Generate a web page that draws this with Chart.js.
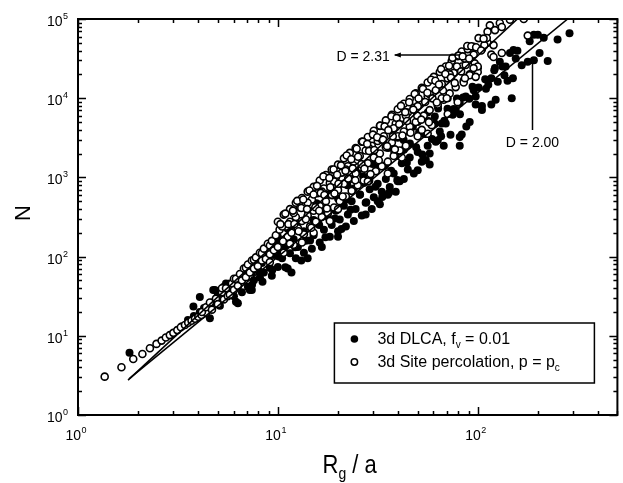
<!DOCTYPE html>
<html>
<head>
<meta charset="utf-8">
<title>N vs Rg/a</title>
<script src="https://cdn.jsdelivr.net/npm/chart.js@4.4.1/dist/chart.umd.min.js"></script>
<style>
  html, body { margin: 0; padding: 0; background: #fff; }
  #wrap { width: 623px; height: 483px; position: relative; }
</style>
</head>
<body>
<div id="wrap"><canvas id="myChart"></canvas></div>
<script>
// axis ranges and tick labels
var xRange = [1, 500];
var yRange = [1, 100000];
var xMajorTicks = [1, 10, 100];
var yMajorTicks = [1, 10, 100, 1000, 10000, 100000];
var xTickExp = ["0", "1", "2"];
var yTickExp = ["0", "1", "2", "3", "4", "5"];

// fitted power laws, end points  [Rg/a, N]
var fit231 = [[1.78, 2.75], [158, 100000]];
var fit200 = [[1.80, 2.85], [282, 100000]];

// 3d site percolation, p = pc  (open circles)  [Rg/a, N]
var percPoints = [
  [1.36,3.05],[1.65,4.0],[1.89,5.1],[2.10,5.9],[2.29,6.95],[2.47,7.9],[2.62,8.7],[2.75,9.5],[2.88,10.2],[3.00,10.9],
  [3.14,11.8],[3.27,12.8],[3.43,13.7],[3.56,14.6],[3.70,15.5],[3.85,16.4],[4.00,17.4],[4.15,18.3],[4.37,19.5],
  [4.17,20.0],[4.37,22.9],[4.57,26.3],[4.68,21.4],[4.90,29.5],[5.01,25.1],[5.25,35.5],[5.25,39.8],[5.37,28.8],[5.50,39.8],
  [5.62,31.6],[5.75,33.1],[5.89,45.7],[6.03,38.0],[6.03,52.5],[6.17,52.5],[6.31,42.7],[6.46,60.3],[6.61,50.1],[6.76,70.8],
  [6.92,55.0],[6.92,72.4],[7.08,79.4],[7.24,63.1],[7.41,89.1],[7.59,70.8],[7.59,91.2],[7.76,97.7],[7.94,75.9],[8.13,112],
  [8.32,89.1],[8.32,110],[8.51,126],[8.71,93.3],[8.91,145],[9.12,107],[9.12,85.1],[9.12,138],[9.33,158],[9.55,120],
  [9.77,186],[10.0,132],[10.2,219],[10.5,158],[10.7,112],[11.0,240],[11.2,178],[11.5,275],[11.7,200],[12.0,141],
  [12.3,316],[12.6,229],[12.9,417],[13.2,282],[13.5,191],[13.8,457],[14.1,331],[14.5,240],[14.8,525],[15.1,380],
  [15.5,275],[15.8,631],[16.2,437],[16.6,316],[17.0,724],[17.4,501],[17.8,355],[18.2,851],[18.6,603],[19.1,417],
  [19.5,1000],[20.0,692],[20.4,501],[20.9,1150],[21.4,832],[21.9,575],[22.4,1380],[22.9,955],[23.4,676],[24.0,1580],
  [24.5,1120],[25.1,794],[25.7,1860],[26.3,1320],[26.9,912],[27.5,2190],[28.2,1510],[28.8,1050],[29.5,2510],[30.2,1780],
  [30.9,1200],[31.6,2880],[32.4,2000],[33.1,1380],[33.9,3310],[34.7,2400],[35.5,1580],[36.3,3980],[37.2,2750],[38.0,1860],
  [38.9,4790],[39.8,3310],[40.7,2190],[41.7,5620],[42.7,3800],[43.7,2510],[44.7,6610],[45.7,4370],[47.9,7590],[49.0,5010],
  [50.1,3310],[52.5,8910],[53.7,6030],[56.2,10500],[57.5,7080],[58.9,4570],[61.7,12600],[63.1,8320],[66.1,15100],[67.6,9550],
  [70.8,17800],[72.4,11500],[75.9,20900],[77.6,13800],[79.4,8910],[83.2,25100],[85.1,16600],[89.1,29500],[91.2,20000],[95.5,35500],
  [100,24000],[105,41700],[112,50100],[83.2,38900],
  [115,83200],[129,89100],[132,79400],[145,97700],[112,69200],[122,72400],[178,61700],[132,37200],[95.5,44700],[108,46800],
  [96.6,27500],[100,21400],[85.1,15800],[91.2,19500],[117,35500],[111,57500],[120,46800],[120,33100],[97.7,18600],[100,25100],
  [87.1,26300],[86.1,31600],[170,100000],
  [10.5,240],[12.0,355],[14.1,479],[16.6,661],[19.1,891],[21.9,1260],[25.1,1660],[28.8,2290],[33.1,3020],[38.0,4170],
  [43.7,6030],[50.1,7940],[57.5,11200],[66.1,10000],[72.4,20000],[52.5,3980],[28.2,891],[20.0,398],[15.1,200],[41.7,1780],
  [35.5,1120],[56.2,3550],[70.8,6310],[18.2,282],[13.2,151],
  [10.0,275],[10.7,339],[11.5,398],[12.3,479],[13.2,550],[14.1,661],[15.1,759],[16.2,912],[17.4,1070],[18.6,1260],
  [20.0,1450],[21.4,1740],[22.9,2040],[24.5,2340],[26.3,2820],[28.2,3240],[30.2,3890],[32.4,4470],[34.7,5250],[37.2,6170],
  [39.8,7240],[42.7,8510],[45.7,9770],[49.0,11500],[52.5,13500],[56.2,15800],[60.3,18600],[64.6,21400],[69.2,25100],[74.1,29500],
  [79.4,33900],[89.1,41700],
  [10.3,257],[10.6,156],[10.9,349],[11.3,257],[11.5,145],[11.9,381],[12.1,258],[12.5,506],[12.7,209],[13.1,410],
  [13.4,526],[13.8,296],[14.0,398],[14.4,684],[14.7,231],[15.1,607],[15.4,419],[15.7,782],[16.1,380],[16.4,637],
  [16.9,1030],[17.1,600],[17.6,406],[18.1,986],[18.3,750],[19.0,1260],[19.2,625],[19.8,1080],[20.1,832],[20.7,1420],
  [21.1,573],[21.8,1210],[22.1,1890],[22.5,966],[23.3,1700],[23.7,1300],[24.4,920],[24.8,2300],[25.2,1820],[26.2,1470],
  [26.6,2830],[27.1,1290],[28.0,2650],[28.6,2150],[29.1,1100],[29.9,3470],[30.4,2220],[31.4,3220],[32.0,1650],[32.5,4500],
  [33.6,2990],[34.2,4410],[35.2,2480],[35.7,3950],[37.0,5920],[37.6,3300],[38.5,2260],[39.3,5650],[40.5,4700],[41.3,8000],
  [42.0,3380],[43.4,6670],[44.3,5150],[45.4,8870],[46.1,3660],[47.6,7180],[48.4,11300],[49.8,6030],[50.6,9910],[52.2,5360],
  [53.2,13100],[54.6,8950],[56.0,11700],[57.0,4970],[58.5,17100],[59.4,9950],[61.4,16600],[62.4,8830],[64.0,14900],[65.6,23300],
  [67.0,12500],[68.9,20200],[70.0,10000],[71.9,25700],[73.5,18200],[74.8,32300],[76.7,15600],[78.7,25100],[80.2,34500],[82.6,21800],
  [84.1,33700],[86.3,17900],[88.7,45700],[90.6,31700],[92.9,45300],[95.3,24000],[98.2,43900],[101,57400],[104,40000],[107,56500]
];

// 3d DLCA, fv = 0.01  (filled circles)  [Rg/a, N]
var dlcaPoints = [
  [1.81,6.12],[3.31,13.2],[3.55,15.8],[3.78,23.4],[3.80,17.8],[4.07,30.9],[4.07,20.0],[4.27,22.4],[4.37,19.1],[4.57,16.6],
  [4.68,26.3],[4.75,38.0],[4.84,38.0],[4.90,26.9],[5.01,33.1],[5.13,24.0],[5.25,30.2],[5.37,41.7],[5.50,45.7],[5.62,35.5],
  [5.75,45.7],[6.03,31.6],[6.17,26.9],[6.31,25.7],[6.31,41.7],[6.46,50.1],[6.61,35.5],[6.92,56.2],[7.08,41.7],[7.24,38.0],
  [7.41,63.1],[7.41,38.0],[7.59,50.1],[7.94,70.8],[8.13,55.0],[8.32,83.2],[8.51,63.1],[8.91,95.5],[9.12,72.4],[9.33,57.5],
  [9.55,105],[10.0,74.1],[10.0,120],[10.0,178],[10.5,95.5],[10.7,126],[11.0,141],[11.2,70.8],[11.2,224],[11.5,110],
  [11.7,63.1],[12.0,166],[12.3,95.5],[12.6,132],[12.6,282],[13.2,200],[13.5,112],[13.5,209],[13.8,158],[14.1,380],
  [14.1,95.5],[14.5,240],[14.8,126],[15.1,186],[15.8,275],[15.8,457],[16.2,151],[16.6,132],[17.0,219],[17.0,331],
  [17.8,316],[17.8,603],[18.2,178],[18.6,251],[19.5,380],[20.0,209],[20.0,724],[20.0,178],[20.4,295],[21.4,437],
  [21.4,525],[21.9,240],[22.4,339],[22.4,955],[23.4,501],[24.0,282],[24.5,398],[25.1,1200],[25.7,603],[26.3,331],
  [26.9,851],[27.5,339],[27.5,479],[28.2,1510],[28.8,708],[29.5,398],[30.2,562],[31.6,832],[31.6,2000],[31.6,501],
  [32.4,457],[33.1,661],[33.9,1380],[34.7,955],[35.5,603],[35.5,2510],[36.0,640],[36.3,759],[38.0,1120],[38.9,661],
  [39.8,891],[39.8,3160],[40.7,891],[41.7,1510],[42.7,955],[42.7,2240],[44.7,1260],[44.7,3800],[45.7,1780],[47.9,1120],
  [50.1,1230],[50.1,2090],[50.1,5010],[52.5,1580],[53.7,3550],[55.0,1660],[56.2,2510],[56.2,6610],[57.5,2000],[57.5,1450],
  [61.0,5890],[61.7,2820],[63.1,2950],[63.1,7940],[64.6,3800],[66.1,4790],[67.6,2510],[69.2,4790],[70.8,10000],[72.4,6460],
  [75.0,6170],[77.6,7080],[81.3,8710],[81.3,3240],[81.3,2510],[83.2,3470],[87.1,10500],[91.2,5010],[95.5,12600],[97.7,10500],
  [105,7080],[110,13200],[117,17800],[122,24000],[123,9550],[129,28800],[136,19500],[138,25100],[145,37200],[148,10000],
  [150,17800],[151,40700],[158,39800],[178,28800],[191,30200],[191,63100],[200,63100],[204,37200],[224,29500],[251,55000],
  [288,66100],
  [7.13,64.0],[7.43,44.0],[7.74,91.2],[8.04,65.0],[8.38,48.0],[8.67,103],[9.04,88.9],[9.38,67.9],[9.73,153],[10.1,100],
  [10.5,160],[10.9,73.6],[11.3,156],[11.7,246],[12.2,131],[12.6,211],[13.1,89.5],[13.5,200],[14.1,313],[14.5,160],
  [15.1,289],[15.6,470],[16.1,250],[16.8,406],[17.3,175],[18.0,378],[18.7,590],[19.3,303],[20.0,541],[20.8,223],
  [21.6,514],[22.3,798],[23.1,390],[24.0,723],[24.9,1200],[25.8,607],[26.7,1030],[27.7,486],[28.7,908],[29.8,1480],
  [30.8,762],[32.0,1360],[33.3,564],[34.4,1410],[35.6,2350],[36.9,1210],[38.2,2110],[39.6,929],[41.0,1820],[42.6,2960],
  [44.2,1530],[45.8,2680],[47.4,4360],[49.2,2410],[50.9,3740],[52.8,1940],[54.7,3530],[56.8,5140],[59.0,3060],[61.1,4750],
  [63.4,7410],[65.6,3320],[68.1,5180],[70.6,7360],[73.1,3450],[75.9,7280],[78.7,9890],[81.5,6250],[84.5,10200],[87.7,4390],
  [90.8,9840],[94.2,14000],[97.7,8300],[101,13600],[105,8000],[109,17300],[113,14800],[117,8340],[121,22600],[126,16100],
  [133,25100],[141,16600],[155,31800],[166,26000],[182,52200],[214,57900]
];

function toXY(list) {
  return list.map(function (p) { return { x: p[0], y: p[1] }; });
}

var FONT = '"Liberation Sans", Arial, Helvetica, sans-serif';

// minor ticks 2..9 in every decade
function minorTicks(majors, max) {
  var out = [];
  majors.forEach(function (d) {
    for (var k = 2; k <= 9; k++) {
      if (k * d <= max) out.push(k * d);
    }
  });
  return out;
}

// draw "10" with a raised exponent, anchor = left x of the text
function drawPower(ctx, exp, left, base) {
  ctx.font = '14px ' + FONT;
  ctx.textAlign = 'left';
  ctx.textBaseline = 'alphabetic';
  ctx.fillText('10', left, base);
  var w = ctx.measureText('10').width;
  ctx.font = '9px ' + FONT;
  ctx.fillText(exp, left + w + 0.5, base - 7);
}
function powerWidth(ctx, exp) {
  ctx.font = '14px ' + FONT;
  var w = ctx.measureText('10').width;
  ctx.font = '9px ' + FONT;
  return w + 0.5 + ctx.measureText(exp).width;
}

var framePlugin = {
  id: 'framePlugin',
  afterDraw: function (chart) {
    var ctx = chart.ctx, a = chart.chartArea;
    var xs = chart.scales.x, ys = chart.scales.y;
    ctx.save();
    ctx.strokeStyle = '#000';
    ctx.fillStyle = '#000';

    // box
    ctx.lineWidth = 2;
    ctx.strokeRect(a.left, a.top, a.right - a.left, a.bottom - a.top);

    // inward ticks on all four sides
    ctx.lineWidth = 1.5;
    ctx.beginPath();
    var xt = xMajorTicks.map(function (v) { return [v, 8]; })
      .concat(minorTicks(xMajorTicks, xRange[1]).map(function (v) { return [v, 4]; }));
    xt.forEach(function (t) {
      var px = Math.round(xs.getPixelForValue(t[0])) + 0.5;
      ctx.moveTo(px, a.bottom); ctx.lineTo(px, a.bottom - t[1]);
      ctx.moveTo(px, a.top); ctx.lineTo(px, a.top + t[1]);
    });
    var yt = yMajorTicks.map(function (v) { return [v, 8]; })
      .concat(minorTicks(yMajorTicks.slice(0, -1), yRange[1]).map(function (v) { return [v, 4]; }));
    yt.forEach(function (t) {
      var py = Math.round(ys.getPixelForValue(t[0])) + 0.5;
      ctx.moveTo(a.left, py); ctx.lineTo(a.left + t[1], py);
      ctx.moveTo(a.right, py); ctx.lineTo(a.right - t[1], py);
    });
    ctx.stroke();

    // tick labels
    xMajorTicks.forEach(function (v, i) {
      var px = xs.getPixelForValue(v);
      var w = powerWidth(ctx, xTickExp[i]);
      drawPower(ctx, xTickExp[i], px - w / 2 - 2, a.bottom + 25);
    });
    yMajorTicks.forEach(function (v, i) {
      var py = ys.getPixelForValue(v);
      var w = powerWidth(ctx, yTickExp[i]);
      drawPower(ctx, yTickExp[i], a.left - 10 - w, py + 7);
    });

    // axis titles
    ctx.save();
    ctx.translate(24, (a.top + a.bottom) / 2 - 4);
    ctx.rotate(-Math.PI / 2);
    ctx.font = '22px ' + FONT;
    ctx.textAlign = 'center';
    ctx.textBaseline = 'middle';
    ctx.fillText('N', 0, 0);
    ctx.restore();

    ctx.save();
    var cx = (a.left + a.right) / 2 + 2;
    ctx.translate(cx, a.bottom + 58);
    ctx.scale(1, 1.2);
    ctx.textAlign = 'left';
    ctx.textBaseline = 'alphabetic';
    ctx.font = '22px ' + FONT;
    var wR = ctx.measureText('R').width;
    var wRest = ctx.measureText(' / a').width;
    ctx.font = '14px ' + FONT;
    var wg = ctx.measureText('g').width;
    var x0 = -(wR + wg + wRest) / 2;
    ctx.font = '22px ' + FONT;
    ctx.fillText('R', x0, 0);
    ctx.font = '14px ' + FONT;
    ctx.fillText('g', x0 + wR, 5);
    ctx.font = '22px ' + FONT;
    ctx.fillText(' / a', x0 + wR + wg, 0);
    ctx.restore();

    // annotations with arrows
    ctx.lineWidth = 1.5;
    var ay = ys.getPixelForValue(35100);
    var ax0 = xs.getPixelForValue(38.5), ax1 = xs.getPixelForValue(81.3);
    ctx.beginPath();
    ctx.moveTo(ax0, ay); ctx.lineTo(ax1, ay);
    ctx.stroke();
    ctx.beginPath();
    ctx.moveTo(ax0 - 1, ay); ctx.lineTo(ax0 + 6, ay - 2.5); ctx.lineTo(ax0 + 6, ay + 2.5); ctx.closePath();
    ctx.fill();
    ctx.font = '14px ' + FONT;
    ctx.textAlign = 'right';
    ctx.textBaseline = 'middle';
    ctx.fillText('D = 2.31', xs.getPixelForValue(36.3), ay + 2);

    var vx = xs.getPixelForValue(188);
    var vy0 = ys.getPixelForValue(3970), vy1 = ys.getPixelForValue(32200);
    ctx.beginPath();
    ctx.moveTo(vx, vy0); ctx.lineTo(vx, vy1);
    ctx.stroke();
    ctx.beginPath();
    ctx.moveTo(vx, vy1 - 1); ctx.lineTo(vx - 2.5, vy1 + 6); ctx.lineTo(vx + 2.5, vy1 + 6); ctx.closePath();
    ctx.fill();
    ctx.textAlign = 'center';
    ctx.fillText('D = 2.00', vx, ys.getPixelForValue(2720));

    // legend box
    var lx = a.right - 283, lt = a.bottom - 92, lw = 260, lh = 60;
    ctx.fillStyle = '#fff';
    ctx.fillRect(lx, lt, lw, lh);
    ctx.fillStyle = '#000';
    ctx.lineWidth = 1.5;
    ctx.strokeRect(lx, lt, lw, lh);

    ctx.beginPath();
    ctx.arc(lx + 20, lt + 16, 3.8, 0, Math.PI * 2);
    ctx.fill();
    ctx.beginPath();
    ctx.arc(lx + 20, lt + 39, 3.2, 0, Math.PI * 2);
    ctx.lineWidth = 1.5;
    ctx.stroke();

    ctx.textAlign = 'left';
    ctx.textBaseline = 'alphabetic';
    var tx = lx + 43, b1 = lt + 21, b2 = lt + 44;
    ctx.font = '16px ' + FONT;
    ctx.fillText('3d DLCA, f', tx, b1);
    var w1 = ctx.measureText('3d DLCA, f').width;
    ctx.font = '10px ' + FONT;
    ctx.fillText('v', tx + w1, b1 + 4);
    var wv = ctx.measureText('v').width;
    ctx.font = '16px ' + FONT;
    ctx.fillText(' = 0.01', tx + w1 + wv, b1);

    ctx.fillText('3d Site percolation, p = p', tx, b2);
    var w2 = ctx.measureText('3d Site percolation, p = p').width;
    ctx.font = '10px ' + FONT;
    ctx.fillText('c', tx + w2, b2 + 4);

    ctx.restore();
  }
};

var ctx = document.getElementById('myChart');
var myChart = new Chart(ctx, {
  type: 'scatter',
  data: {
    datasets: [
      {
        label: 'D = 2.31',
        data: toXY(fit231),
        showLine: true,
        pointRadius: 0,
        borderColor: '#000',
        borderWidth: 1.6
      },
      {
        label: 'D = 2.00',
        data: toXY(fit200),
        showLine: true,
        pointRadius: 0,
        borderColor: '#000',
        borderWidth: 1.6
      },
      {
        label: '3d Site percolation, p = pc',
        data: toXY(percPoints),
        pointRadius: 3.5,
        pointBackgroundColor: '#fff',
        pointBorderColor: '#000',
        pointBorderWidth: 1.6
      },
      {
        label: '3d DLCA, fv = 0.01',
        data: toXY(dlcaPoints),
        pointRadius: 4,
        pointBackgroundColor: '#000',
        pointBorderColor: '#000',
        pointBorderWidth: 0
      }
    ]
  },
  options: {
    responsive: true,
    maintainAspectRatio: false,
    animation: false,
    events: [],
    layout: { padding: { left: 78, right: 5, top: 19, bottom: 68 } },
    scales: {
      x: { type: 'logarithmic', min: xRange[0], max: xRange[1], display: false },
      y: { type: 'logarithmic', min: yRange[0], max: yRange[1], display: false }
    },
    plugins: {
      legend: { display: false },
      tooltip: { enabled: false }
    }
  },
  plugins: [framePlugin]
});
</script>
</body>
</html>
